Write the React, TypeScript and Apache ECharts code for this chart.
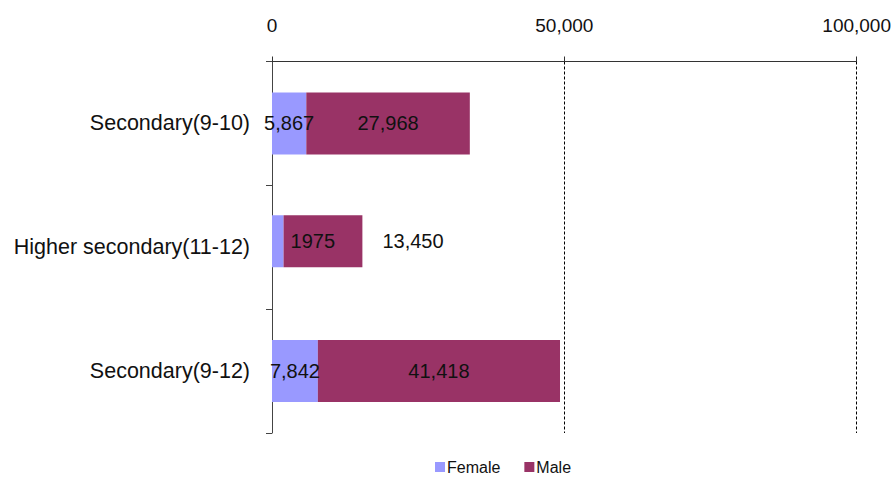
import React, { useEffect, useRef } from "react";
import * as echarts from "echarts";

const categories = ["Secondary(9-10)", "Higher secondary(11-12)", "Secondary(9-12)"];
const female = [5867, 1975, 7842];
const male = [27968, 13450, 41418];
const femaleLabels = ["5,867", "1975", "7,842"];
const maleLabels = ["27,968", "13,450", "41,418"];
const xTickLabels = ["0", "50,000", "100,000"];
const thinRows = [1];

const FEMALE_COLOR = "#9999FF";
const MALE_COLOR = "#993366";
const FONT = "Liberation Sans, Arial, sans-serif";

export default function App() {
  const ref = useRef<HTMLDivElement>(null);

  useEffect(() => {
    if (!ref.current) return;
    const chart = echarts.init(ref.current, undefined, { renderer: "svg" });

    const pick = (arr: number[], thin: boolean) =>
      arr.map((v, i) => (thinRows.includes(i) === thin ? v : null));

    const labelFor = (texts: string[]) => (p: any) => texts[p.dataIndex];

    const rowLabelOffset = (i: number, isFemale: boolean) =>
      thinRows.includes(i) ? (isFemale ? [35, 0] : [90, 0]) : [0, 0];

    const makeData = (arr: number[], thin: boolean, isFemale: boolean) =>
      pick(arr, thin).map((v, i) =>
        v === null
          ? null
          : { value: v, label: { offset: rowLabelOffset(i, isFemale) } }
      );

    const labelBase = {
      show: true,
      position: "inside",
      color: "#111",
      fontSize: 20,
      fontFamily: FONT,
    };

    const option: any = {
      animation: false,
      backgroundColor: "#fff",
      textStyle: { fontFamily: FONT },
      grid: [
        { left: 272, right: 36, top: 61.5, height: 371.5, containLabel: false },
        { left: 272, right: 36, top: 55.5, height: 371.5, containLabel: false },
      ],
      legend: {
        data: ["Female", "Male"],
        left: 435,
        top: 459,
        padding: 0,
        icon: "rect",
        itemWidth: 10,
        itemHeight: 10,
        itemGap: 24,
        textStyle: { fontSize: 16, lineHeight: 16, color: "#111", fontFamily: FONT, padding: [0, 0, 0, -3] },
      },
      xAxis: [
        {
          type: "value",
          gridIndex: 0,
          position: "top",
          min: 0,
          max: 100000,
          interval: 50000,
          axisLine: { show: true, lineStyle: { color: "#333", width: 1 } },
          axisTick: { show: true, length: 5, lineStyle: { color: "#333" } },
          axisLabel: {
            fontSize: 19,
            color: "#111",
            fontFamily: FONT,
            margin: 27,
            formatter: (v: number) => xTickLabels[Math.round(v / 50000)],
          },
          splitLine: {
            show: true,
            showMinLine: false,
            lineStyle: { color: "#000", type: [3, 2], width: 1 },
          },
        },
        {
          type: "value",
          gridIndex: 1,
          position: "top",
          min: 0,
          max: 100000,
          interval: 50000,
          show: false,
          splitLine: { show: false },
        },
      ],
      yAxis: [
        {
          type: "category",
          gridIndex: 0,
          data: categories,
          inverse: true,
          axisLine: { show: true, lineStyle: { color: "#444", width: 1 } },
          axisTick: { show: true, length: 6, lineStyle: { color: "#444" } },
          axisLabel: { fontSize: 21.5, color: "#111", fontFamily: FONT, margin: 22 },
        },
        {
          type: "category",
          gridIndex: 1,
          data: categories,
          inverse: true,
          show: false,
        },
      ],
      series: [
        {
          name: "Female",
          type: "bar",
          stack: "a",
          xAxisIndex: 0,
          yAxisIndex: 0,
          barWidth: 62,
          itemStyle: { color: FEMALE_COLOR },
          label: { ...labelBase, formatter: labelFor(femaleLabels) },
          data: makeData(female, false, true),
        },
        {
          name: "Male",
          type: "bar",
          stack: "a",
          xAxisIndex: 0,
          yAxisIndex: 0,
          barWidth: 62,
          itemStyle: { color: MALE_COLOR },
          label: { ...labelBase, formatter: labelFor(maleLabels) },
          data: makeData(male, false, false),
        },
        {
          name: "Female",
          type: "bar",
          stack: "b",
          xAxisIndex: 1,
          yAxisIndex: 1,
          barWidth: 52,
          itemStyle: { color: FEMALE_COLOR },
          label: { ...labelBase, formatter: labelFor(femaleLabels) },
          data: makeData(female, true, true),
        },
        {
          name: "Male",
          type: "bar",
          stack: "b",
          xAxisIndex: 1,
          yAxisIndex: 1,
          barWidth: 52,
          itemStyle: { color: MALE_COLOR },
          label: { ...labelBase, formatter: labelFor(maleLabels) },
          data: makeData(male, true, false),
        },
      ],
    };

    chart.setOption(option);
    return () => chart.dispose();
  }, []);

  return (
    <div
      ref={ref}
      style={{ position: "fixed", left: 0, top: 0, width: 894, height: 477, background: "#fff" }}
    />
  );
}
